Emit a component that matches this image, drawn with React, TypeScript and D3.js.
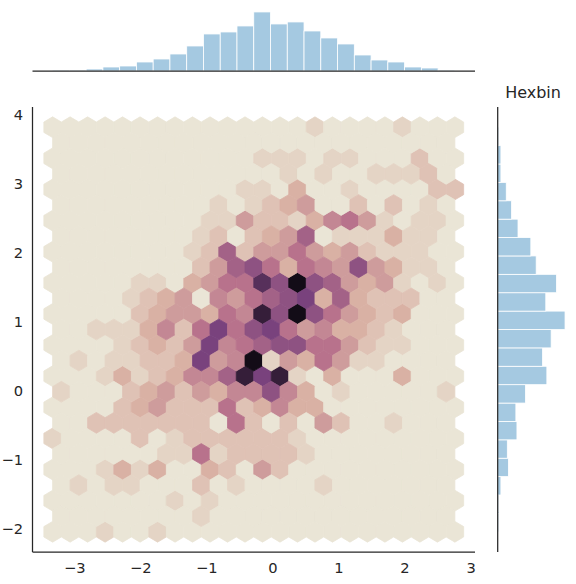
import * as d3 from 'd3';

const W = 576;
const H = 584;

// hexbin extent (data min/max) and grid size
const xMin = -3.335;
const xMax = 2.755;
const yMin = -2.05;
const yMax = 3.82;
const nx = 23;
const ny = 13;

// colour level of every hex, one string per row from top to bottom
// even rows: nx + 1 cells, odd rows: nx cells (offset half a cell)
// 0-9, a = 10, b = 11, c = 12
const hexRows = [
  '000000000000000100001000',
  '00000000000000000000000',
  '000000000000111011000200',
  '00000000000001010011120',
  '000000000001103001000022',
  '00000000010123400202010',
  '000000000114221356410110',
  '00000000120234701113110',
  '000000001272446434211100',
  '00000000247863654843110',
  '000001103466a8c874341010',
  '00001234054678937322200',
  '000002344365b8c864323000',
  '00111352696896453321000',
  '000012324956788664211000',
  '01011223945c14364110000',
  '00013123557b9b1030003000',
  '10002342435585301000001',
  '000023422262353300000000',
  '00222222206202042001000',
  '100002012222221000000000',
  '00000011612222100000000',
  '000131300320420000000000',
  '01011000201000010000000',
  '000000010100000000000000',
  '00000000100000000000000',
  '000100100000000000000000',
];

// marginal histograms
const topCounts = [1, 1, 2, 4, 5, 9, 12, 17, 25, 37, 39, 45, 59, 47, 49, 40, 33, 27, 16, 11, 9, 4, 3, 1];
// bottom to top
const rightCounts = [1, 1, 3, 10, 9, 18, 17, 26, 46, 42, 50, 63, 45, 55, 36, 31, 19, 13, 8, 3, 3, 1];

const xTicks = [-3, -2, -1, 0, 1, 2, 3];
const yTicks = [-2, -1, 0, 1, 2, 3, 4];

const levelStops = [0, 3, 6, 9, 12];
const levelColors = ['#eae5d6', '#d9b1a4', '#b8728c', '#79427d', '#130c17'];

const histColor = '#a5c9e1';
const ink = '#262626';
const font = '"DejaVu Sans", sans-serif';

const joint = { left: 32.5, right: 475, top: 107, bottom: 552 };
const topBox = { top: 9, bottom: 71 };
const rightBox = { left: 497.7, right: 568.4 };

export default function App() {
  const rx = xMax - xMin;
  const ry = yMax - yMin;
  const x = d3.scaleLinear().domain([xMin - 0.05 * rx, xMax + 0.05 * rx]).range([joint.left, joint.right]);
  const y = d3.scaleLinear().domain([yMin - 0.05 * ry, yMax + 0.05 * ry]).range([joint.bottom, joint.top]);
  const color = d3.scaleLinear<string>().domain(levelStops).range(levelColors).interpolate(d3.interpolateRgb);

  const sx = rx / nx;
  const sy = ry / ny;

  const cells: { cx: number; cy: number; v: number; odd: boolean }[] = [];
  hexRows.forEach((row, r) => {
    const odd = r % 2 === 1;
    const cy = yMax - (r * sy) / 2;
    row.split('').forEach((ch, i) => {
      const cx = xMin + (i + (odd ? 0.5 : 0)) * sx;
      cells.push({ cx, cy, v: parseInt(ch, 16), odd });
    });
  });
  // matplotlib draws the first lattice, then the offset one
  cells.sort((a, b) => Number(a.odd) - Number(b.odd));

  const hexPath = (cx: number, cy: number) => {
    const pts: [number, number][] = [
      [cx + sx / 2, cy - sy / 6],
      [cx + sx / 2, cy + sy / 6],
      [cx, cy + sy / 3],
      [cx - sx / 2, cy + sy / 6],
      [cx - sx / 2, cy - sy / 6],
      [cx, cy - sy / 3],
    ];
    return d3.line()(pts.map(([a, b]) => [x(a), y(b)] as [number, number])) + 'Z';
  };

  // top marginal
  const topBins = d3.range(topCounts.length + 1).map((k) => xMin + (k * rx) / topCounts.length);
  const topMax = d3.max(topCounts) as number;
  const yTop = d3.scaleLinear().domain([0, topMax * 1.05]).range([topBox.bottom, topBox.top]);

  // right marginal
  const rightBins = d3.range(rightCounts.length + 1).map((k) => yMin + (k * ry) / rightCounts.length);
  const rightMax = d3.max(rightCounts) as number;
  const xRight = d3.scaleLinear().domain([0, rightMax * 1.05]).range([rightBox.left, rightBox.right]);

  const fmt = (v: number) => (v < 0 ? '\u2212' + Math.abs(v) : String(v));

  return (
    <svg
      width={W}
      height={H}
      style={{ position: 'absolute', left: 0, top: 0, background: '#fff' }}
      fontFamily={font}
    >
      <g>
        {cells.map((c, k) => {
          const fill = color(c.v);
          return <path key={k} d={hexPath(c.cx, c.cy)} fill={fill} stroke={fill} strokeWidth={0.8} />;
        })}
      </g>

      <g>
        {topCounts.map((v, k) => (
          <rect
            key={k}
            x={x(topBins[k])}
            y={yTop(v)}
            width={x(topBins[k + 1]) - x(topBins[k])}
            height={yTop(0) - yTop(v)}
            fill={histColor}
            stroke="#fff"
            strokeWidth={0.8}
          />
        ))}
        <line x1={joint.left} x2={joint.right} y1={topBox.bottom} y2={topBox.bottom} stroke={ink} strokeWidth={1.25} />
      </g>

      <g>
        {rightCounts.map((v, k) => (
          <rect
            key={k}
            x={xRight(0)}
            y={y(rightBins[k + 1])}
            width={xRight(v) - xRight(0)}
            height={y(rightBins[k]) - y(rightBins[k + 1])}
            fill={histColor}
            stroke="#fff"
            strokeWidth={0.8}
          />
        ))}
        <line x1={rightBox.left} x2={rightBox.left} y1={joint.top} y2={joint.bottom} stroke={ink} strokeWidth={1.25} />
        <text x={(rightBox.left + rightBox.right) / 2} y={98} textAnchor="middle" fontSize={16} fill={ink}>
          Hexbin
        </text>
      </g>

      <g>
        <line x1={joint.left} x2={joint.left} y1={joint.top} y2={joint.bottom} stroke={ink} strokeWidth={1.25} />
        <line x1={joint.left} x2={joint.right} y1={joint.bottom} y2={joint.bottom} stroke={ink} strokeWidth={1.25} />
        {xTicks.map((t) => (
          <text key={t} x={x(t)} y={573} textAnchor="middle" fontSize={14.67} fill={ink}>
            {fmt(t)}
          </text>
        ))}
        {yTicks.map((t) => (
          <text key={t} x={23} y={y(t) + 5.3} textAnchor="end" fontSize={14.67} fill={ink}>
            {fmt(t)}
          </text>
        ))}
      </g>
    </svg>
  );
}
